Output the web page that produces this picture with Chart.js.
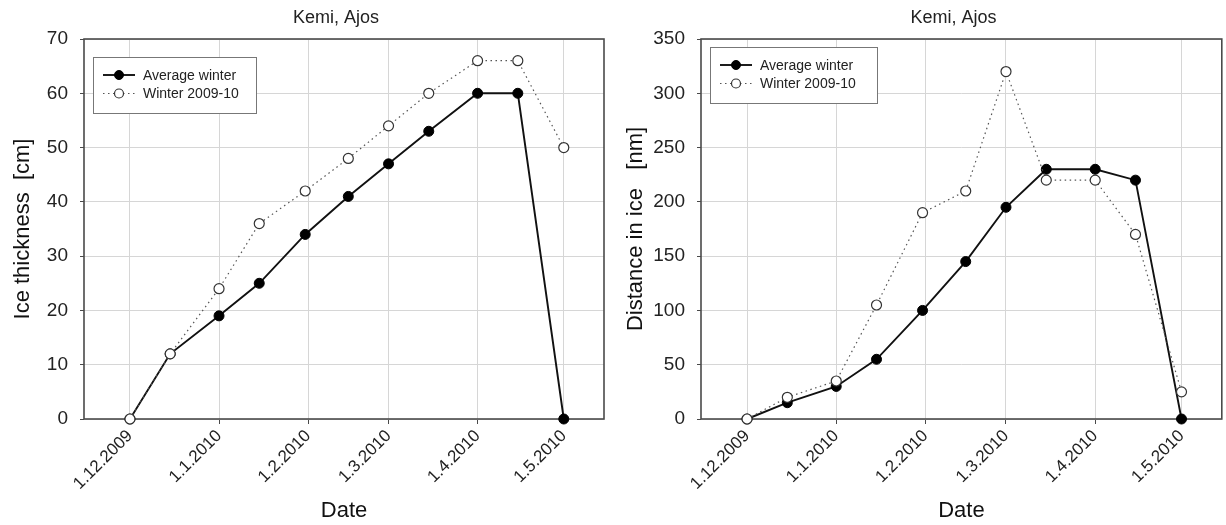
<!DOCTYPE html>
<html>
<head>
<meta charset="utf-8">
<script src="https://cdn.jsdelivr.net/npm/chart.js@4.4.0/dist/chart.umd.min.js"></script>
<style>
  html, body { margin: 0; padding: 0; background: #fff; overflow: hidden; }
  #wrap { position: relative; width: 1226px; height: 525px; overflow: hidden; }
  #thickChart { position: absolute; left: 0; top: 0; }
  #distChart { position: absolute; left: 613px; top: 0; }
</style>
</head>
<body>
<div id="wrap">
  <canvas id="thickChart" width="613" height="525"></canvas>
  <canvas id="distChart" width="615" height="525"></canvas>
</div>
<script>
// day numbers counted from 1.12.2009
const sampleDays = [0, 14, 31, 45, 61, 76, 90, 104, 121, 135, 151];
const monthDays = [0, 31, 62, 90, 121, 151];
const monthLabels = ['1.12.2009', '1.1.2010', '1.2.2010', '1.3.2010', '1.4.2010', '1.5.2010'];

const thicknessAverage = [0, 12, 19, 25, 34, 41, 47, 53, 60, 60, 0];
const thickness2009 = [0, 12, 24, 36, 42, 48, 54, 60, 66, 66, 50];
const distanceAverage = [0, 15, 30, 55, 100, 145, 195, 230, 230, 220, 0];
const distance2009 = [0, 20, 35, 105, 190, 210, 320, 220, 220, 170, 25];

const FONT = "'Liberation Sans', Arial, sans-serif";
const AXIS_COLOR = '#4a4a4a';
const GRID_COLOR = '#d6d6d6';

function toPoints(values) {
    return sampleDays.map((d, i) => ({ x: d, y: values[i] }));
}

function buildDatasets(avg, season) {
    return [
        {
            label: 'Winter 2009-10',
            data: toPoints(season),
            borderColor: '#555',
            borderWidth: 1.2,
            borderDash: [1.5, 3.5],
            pointRadius: 5,
            pointBackgroundColor: '#fff',
            pointBorderColor: '#333',
            pointBorderWidth: 1.2,
            tension: 0,
            clip: false,
            order: 0
        },
        {
            label: 'Average winter',
            data: toPoints(avg),
            borderColor: '#111',
            borderWidth: 1.9,
            pointRadius: 5,
            pointBackgroundColor: '#000',
            pointBorderColor: '#000',
            pointBorderWidth: 1,
            tension: 0,
            clip: false,
            order: 1
        }
    ];
}

// box around the plot area, drawn under the lines
const framePlugin = {
    id: 'frame',
    beforeDatasetsDraw(chart) {
        const { ctx, chartArea: a } = chart;
        ctx.save();
        ctx.strokeStyle = AXIS_COLOR;
        ctx.lineWidth = 1.6;
        ctx.strokeRect(a.left, a.top, a.right - a.left, a.bottom - a.top);
        ctx.restore();
    }
};

// title centred (roughly) over the plot area
const panelTitlePlugin = {
    id: 'panelTitle',
    afterDraw(chart, args, opts) {
        const { ctx, chartArea: a } = chart;
        ctx.save();
        ctx.font = `${opts.size}px ${FONT}`;
        ctx.fillStyle = '#222';
        ctx.textAlign = 'center';
        ctx.textBaseline = 'middle';
        ctx.fillText(opts.text, (a.left + a.right) / 2 + opts.dx, opts.y);
        ctx.restore();
    }
};

// boxed legend inside the plot, average series first
const boxLegendPlugin = {
    id: 'boxLegend',
    afterDatasetsDraw(chart, args, opts) {
        const { ctx, chartArea: a } = chart;
        const x0 = a.left + opts.dx, y0 = a.top + opts.dy;
        ctx.save();
        ctx.fillStyle = '#fff';
        ctx.fillRect(x0, y0, opts.w, opts.h);
        ctx.strokeStyle = '#777';
        ctx.lineWidth = 1;
        ctx.strokeRect(x0 + 0.5, y0 + 0.5, opts.w, opts.h);
        const sets = chart.data.datasets.slice().reverse();
        sets.forEach((ds, i) => {
            const cy = y0 + opts.row0 + i * opts.rowGap;
            const lx = x0 + 10;
            ctx.strokeStyle = ds.borderColor;
            ctx.lineWidth = ds.borderWidth;
            ctx.setLineDash(ds.borderDash || []);
            ctx.beginPath();
            ctx.moveTo(lx, cy);
            ctx.lineTo(lx + 32, cy);
            ctx.stroke();
            ctx.setLineDash([]);
            ctx.beginPath();
            ctx.arc(lx + 16, cy, 4.5, 0, Math.PI * 2);
            ctx.fillStyle = ds.pointBackgroundColor;
            ctx.fill();
            ctx.strokeStyle = ds.pointBorderColor;
            ctx.lineWidth = ds.pointBorderWidth;
            ctx.stroke();
            ctx.font = `14px ${FONT}`;
            ctx.fillStyle = '#222';
            ctx.textAlign = 'left';
            ctx.textBaseline = 'middle';
            ctx.fillText(ds.label, lx + 40, cy + 1);
        });
        ctx.restore();
    }
};

function buildChart(id, avg, season, yMax, yStep, yTitle, yWidth, padRight, legendBox) {
    return new Chart(document.getElementById(id), {
        type: 'line',
        data: { datasets: buildDatasets(avg, season) },
        options: {
            responsive: false,
            animation: false,
            devicePixelRatio: 1,
            layout: { padding: { top: 39, right: padRight, left: 0, bottom: 0 } },
            plugins: {
                legend: { display: false },
                tooltip: { enabled: false },
                panelTitle: { text: 'Kemi, Ajos', size: 18, y: 18, dx: -8 },
                boxLegend: legendBox
            },
            scales: {
                x: {
                    type: 'linear',
                    min: -16,
                    max: 165,
                    afterBuildTicks: s => { s.ticks = monthDays.map(v => ({ value: v })); },
                    afterFit: s => { s.height = 106; },
                    ticks: {
                        autoSkip: false,
                        minRotation: 45,
                        maxRotation: 45,
                        padding: 2,
                        color: '#222',
                        font: { family: FONT, size: 17 },
                        callback: v => monthLabels[monthDays.indexOf(v)]
                    },
                    grid: { color: GRID_COLOR, tickColor: AXIS_COLOR, tickLength: 5 },
                    border: { display: false },
                    title: {
                        display: true,
                        text: 'Date',
                        color: '#111',
                        font: { family: FONT, size: 22 },
                        padding: { top: 0, bottom: 1 }
                    }
                },
                y: {
                    min: 0,
                    max: yMax,
                    afterFit: s => { s.width = yWidth; },
                    ticks: {
                        stepSize: yStep,
                        padding: 12,
                        color: '#222',
                        font: { family: FONT, size: 19 }
                    },
                    grid: { color: GRID_COLOR, tickColor: AXIS_COLOR, tickLength: 4 },
                    border: { display: false },
                    title: {
                        display: true,
                        text: yTitle,
                        color: '#111',
                        font: { family: FONT, size: 22 },
                        padding: { top: 10, bottom: 0 }
                    }
                }
            }
        },
        plugins: [framePlugin, panelTitlePlugin, boxLegendPlugin]
    });
}

buildChart('thickChart', thicknessAverage, thickness2009, 70, 10, 'Ice thickness  [cm]', 84, 9,
    { dx: 9, dy: 18, w: 163, h: 56, row0: 18, rowGap: 18.5 });
buildChart('distChart', distanceAverage, distance2009, 350, 50, 'Distance in ice   [nm]', 88, 1,
    { dx: 9, dy: 8, w: 167, h: 56, row0: 18, rowGap: 18.5 });
</script>
</body>
</html>
